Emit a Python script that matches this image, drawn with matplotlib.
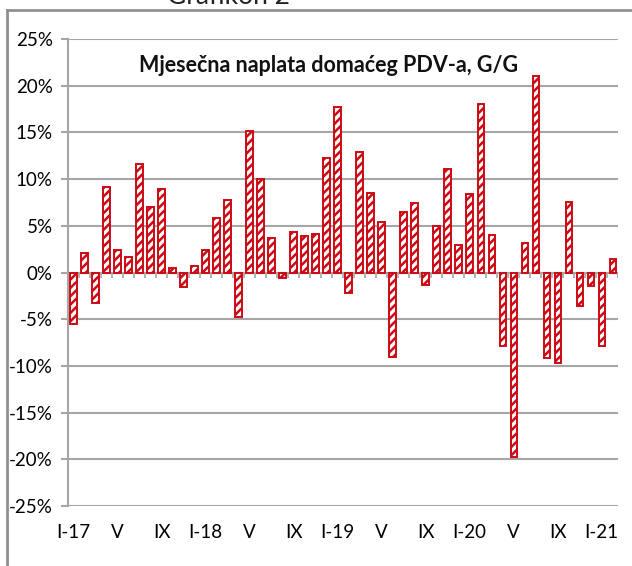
import matplotlib.pyplot as plt
import numpy as np

# monthly VAT collection, y/y change in %, Jan 2017 - Feb 2021
months = ['I', 'II', 'III', 'IV', 'V', 'VI', 'VII', 'VIII', 'IX', 'X', 'XI', 'XII']
years = ['17', '18', '19', '20', '21']
growth = [-5.5, 2.1, -3.3, 9.2, 2.4, 1.7, 11.6, 7.0, 8.9, 0.5, -1.6, 0.7,
          2.4, 5.8, 7.8, -4.8, 15.1, 10.0, 3.7, -0.6, 4.3, 3.9, 4.1, 12.3,
          17.7, -2.2, 12.9, 8.5, 5.4, -9.0, 6.5, 7.4, -1.3, 5.0, 11.1, 2.9,
          8.4, 18.0, 4.0, -7.9, -19.7, 3.2, 21.0, -9.2, -9.7, 7.5, -3.6, -1.4,
          -7.9, 1.4]
yticks = [-25, -20, -15, -10, -5, 0, 5, 10, 15, 20, 25]

labels = []
for i in range(len(growth)):
    m = months[i % 12]
    labels.append(m + '-' + years[i // 12] if m == 'I' else m)

plt.rcParams['font.family'] = ['Lato', 'DejaVu Sans']
plt.rcParams['hatch.linewidth'] = 1.8

red = '#cc0a14'
grid = '#a6a6a6'

fig = plt.figure(figsize=(6.32, 5.66), dpi=100)
ax = fig.add_axes([0.1076, 0.1060, 0.8703, 0.8251])

x = np.arange(len(growth))
ax.bar(x, growth, width=0.55, color='white', edgecolor=red, hatch='////', linewidth=1.4, zorder=3)

ax.set_xlim(-0.5, len(growth) - 0.5)
ax.set_ylim(-25, 25)
ax.set_yticks(yticks)
ax.set_yticklabels(['%d%%' % v for v in yticks], fontsize=13.5)
ax.yaxis.grid(True, color=grid, linewidth=1.5, zorder=0)
ax.tick_params(axis='y', length=5, width=1.5, color=grid, pad=6)

ax.axhline(0, color=grid, linewidth=1.5, zorder=2)
ax.vlines(np.arange(len(growth) + 1) - 0.5, -0.6, 0, color=grid, linewidth=1.2, zorder=2)

ax.set_xticks(x[::4])
ax.set_xticklabels(labels[::4], fontsize=13.5)
ax.tick_params(axis='x', length=0, pad=13)

for s in ['top', 'right', 'bottom']:
    ax.spines[s].set_visible(False)
ax.spines['left'].set_color(grid)
ax.spines['left'].set_linewidth(1.5)

ax.text(0.474, 0.966, 'Mjesečna naplata domaćeg PDV-a, G/G', transform=ax.transAxes,
        ha='center', va='top', fontsize=15.5, fontweight='bold', color='#111111')

# frame of the surrounding table and cut off caption
fig.add_artist(plt.Line2D([0.011, 1], [0.983, 0.983], color='#909090', linewidth=2))
fig.add_artist(plt.Line2D([0.011, 0.011], [0, 0.983], color='#909090', linewidth=2))
fig.text(0.362, 1.006, 'Grafikon 2', ha='center', va='center', fontsize=19, color='#222222')

fig.savefig('out.png', dpi=100)
